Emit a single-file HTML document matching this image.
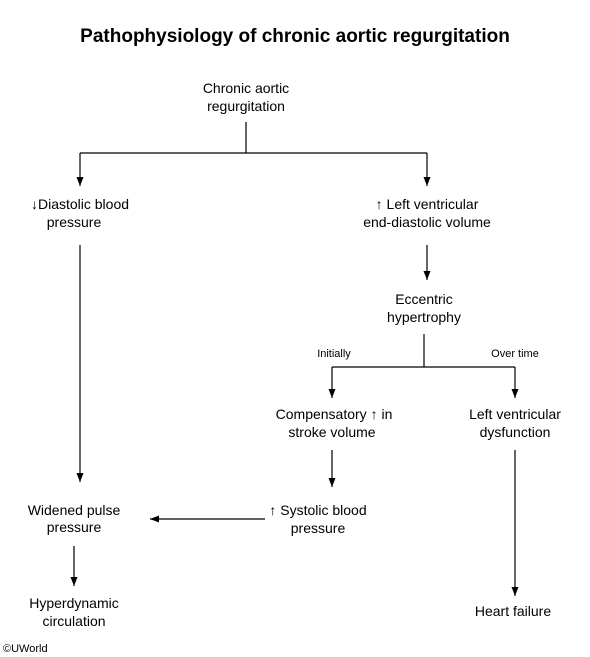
<!DOCTYPE html>
<html><head><style>body{margin:0;background:#fff}svg{display:block}</style></head><body>
<svg width="590" height="657" xmlns="http://www.w3.org/2000/svg" font-family="Liberation Sans, Arial, sans-serif" fill="#000">
<defs><marker id="a" markerWidth="10" markerHeight="12" refX="9" refY="4" orient="auto" markerUnits="userSpaceOnUse"><path d="M0,0.5 L9,4 L0,7.5 z"/></marker></defs>
<text x="295" y="42" text-anchor="middle" font-size="19" font-weight="bold">Pathophysiology of chronic aortic regurgitation</text>
<g font-size="14" text-anchor="middle">
<text x="246" y="93">Chronic aortic</text><text x="246" y="111">regurgitation</text>
<text x="80" y="209">↓Diastolic blood</text><text x="74" y="227">pressure</text>
<text x="427" y="209">↑ Left ventricular</text><text x="427" y="227">end-diastolic volume</text>
<text x="424" y="304">Eccentric</text><text x="424" y="322">hypertrophy</text>
<text x="334" y="419">Compensatory ↑ in</text><text x="332" y="437">stroke volume</text>
<text x="515" y="419">Left ventricular</text><text x="515" y="437">dysfunction</text>
<text x="318" y="515">↑ Systolic blood</text><text x="318" y="533">pressure</text>
<text x="74" y="515">Widened pulse</text><text x="74" y="532">pressure</text>
<text x="74" y="608">Hyperdynamic</text><text x="74" y="626">circulation</text>
<text x="513" y="616">Heart failure</text>
</g>
<g font-size="11" text-anchor="middle"><text x="334" y="357">Initially</text><text x="515" y="357">Over time</text></g>
<text x="3" y="652" font-size="11">©UWorld</text>
<g stroke="#000" stroke-width="1.2" fill="none">
<path d="M246,122 V153 M80,153 H427"/>
<path d="M80,153 V186" marker-end="url(#a)"/>
<path d="M427,153 V186" marker-end="url(#a)"/>
<path d="M80,245 V482" marker-end="url(#a)"/>
<path d="M427,245 V280" marker-end="url(#a)"/>
<path d="M424,334 V367 M332,367 H515"/>
<path d="M332,367 V398" marker-end="url(#a)"/>
<path d="M515,367 V398" marker-end="url(#a)"/>
<path d="M332,450 V487" marker-end="url(#a)"/>
<path d="M515,450 V596" marker-end="url(#a)"/>
<path d="M265,519 H150" marker-end="url(#a)"/>
<path d="M74,546 V586" marker-end="url(#a)"/>
</g>
</svg>
</body></html>
